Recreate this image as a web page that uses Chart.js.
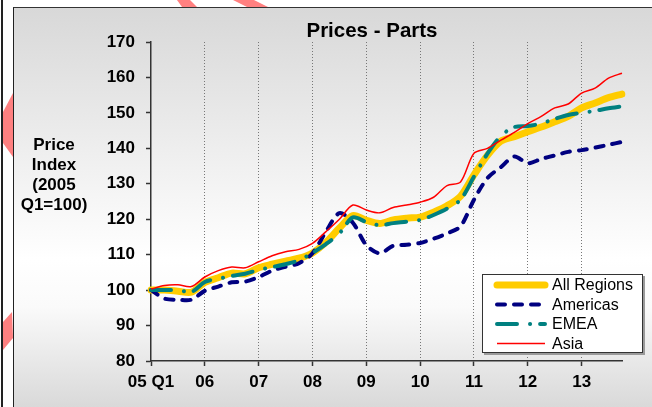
<!DOCTYPE html>
<html>
<head>
<meta charset="utf-8">
<title>Prices - Parts</title>
<script src="https://cdn.jsdelivr.net/npm/chart.js@4.4.1/dist/chart.umd.min.js"></script>
<style>
  html, body { margin: 0; padding: 0; background: #fff; }
  #wrap { position: relative; width: 652px; height: 407px; overflow: hidden; background: #fff;
    font-family: "Liberation Sans", Arial, sans-serif; }
  #outerLine { position: absolute; left: 1px; top: 0; width: 1.5px; height: 407px; background: #222; }
  #panel { position: absolute; left: 13px; top: 7px; right: 0; bottom: 0;
    border-left: 1.5px solid #222; border-top: 1.5px solid #333;
    background: linear-gradient(to bottom, #d8d8d8 0%, #ffffff 63%, #fafafa 75%, #d9d9d9 100%); }
  .pink { position: absolute; background: #ff8080; }
  #title { position: absolute; left: 272px; width: 200px; top: 18px; text-align: center;
    font-weight: bold; font-size: 20.5px; color: #000; }
  #yTitle { position: absolute; left: 14px; width: 80px; top: 135px; text-align: center;
    font-weight: bold; font-size: 17px; line-height: 20px; color: #000; }
  canvas { position: absolute; left: 0; top: 0; }
</style>
</head>
<body>
<div id="wrap">
  <div id="outerLine"></div>
  <div id="panel"></div>
  <div class="pink" style="left:0;top:0;width:652px;height:8px;clip-path:polygon(177px 0,190px 0,197px 7px,182px 7px);"></div>
  <div class="pink" style="left:0;top:0;width:652px;height:8px;clip-path:polygon(233px 0,254px 0,268px 7px,247px 7px);"></div>
  <div class="pink" style="left:0;top:0;width:14px;height:407px;clip-path:polygon(3px 112px,13px 93px,13px 157px,3px 143px);"></div>
  <div class="pink" style="left:0;top:0;width:14px;height:407px;clip-path:polygon(3px 322px,12px 312px,13px 338px,3px 350px);"></div>
  <canvas id="pricesChart" width="652" height="407"></canvas>
  <div id="title">Prices - Parts</div>
  <div id="yTitle">Price<br>Index<br>(2005<br>Q1=100)</div>
</div>
<script>
/* Prices - Parts: quarterly price index, 2005 Q1 = 100 */

const years = ["05", "06", "07", "08", "09", "10", "11", "12", "13"];
const quarters = ["Q1", "Q2", "Q3", "Q4"];
const yearTicks = ["05 Q1", "06", "07", "08", "09", "10", "11", "12", "13"];
const labels = years.flatMap((y) => quarters.map((q) => `${y} ${q}`));

const allRegions = [
  100, 100, 99.7, 99.4, 102.2, 103.5, 104.8, 104.6, 106.3, 107.3, 108.2, 109,
  110.5, 113.5, 117.5, 121, 119.7, 118.8, 119.8, 120.3, 120.6, 122, 123.8, 126.5,
  132.5, 138, 142, 143.3, 144.7, 146, 147.5, 149, 151.4, 152.8, 154.3, 155.3,
];
const americas = [
  100, 97.6, 97.3, 97.3, 99.8, 101, 102.2, 102.4, 103.7, 105.5, 106.6, 107.6,
  110.4, 116.5, 121.7, 119, 112.7, 110.4, 112.5, 112.8, 113.3, 114.5, 116, 118,
  125.5, 131.6, 134.7, 137.7, 135.8, 137, 138, 139, 139.5, 140.2, 141, 141.8,
];
const emea = [
  100, 100, 100, 99.5, 102.3, 103.2, 104, 104.6, 105.7, 106.5, 107.3, 108.4,
  110.5, 113, 116, 120.5, 119.2, 118.3, 118.9, 119.3, 119.8, 121.2, 123, 125.5,
  132, 138.5, 143.5, 146, 146.3, 147, 148.3, 149.4, 150, 150.6, 151.3, 151.8,
];
const asia = [
  100.3, 101.3, 101.5, 101, 103.7, 105.5, 106.5, 106.3, 108, 109.7, 110.8, 111.5,
  113.2, 116.5, 120, 124, 122.6, 121.8, 123.3, 124, 124.8, 126.2, 129.5, 130.5,
  138.6, 140, 142.3, 144.5, 147, 149, 151.4, 152.5, 155.6, 157, 159.8, 161.2,
];

const seriesNames = ["All Regions", "Americas", "EMEA", "Asia"];

// legend box drawn inside the plot, lower right
const insideLegend = {
  id: "insideLegend",
  afterDatasetsDraw(chart) {
    const ctx = chart.ctx;
    const box = { x: 482, y: 274, w: 160, h: 78 };
    ctx.save();
    ctx.fillStyle = "#9a9a9a";
    ctx.fillRect(box.x + 2, box.y + 2, box.w + 1, box.h + 1);
    ctx.fillStyle = "#ffffff";
    ctx.fillRect(box.x, box.y, box.w, box.h);
    ctx.strokeStyle = "#333";
    ctx.lineWidth = 1;
    ctx.strokeRect(box.x + 0.5, box.y + 0.5, box.w, box.h);

    chart.data.datasets.forEach((ds, i) => {
      const y = 285 + i * 19.5;
      ctx.save();
      ctx.strokeStyle = ds.borderColor;
      ctx.lineWidth = ds.borderWidth;
      ctx.lineCap = ds.borderCapStyle || "butt";
      ctx.setLineDash(ds.borderDash || []);
      ctx.beginPath();
      ctx.moveTo(497, y);
      ctx.lineTo(545, y);
      ctx.stroke();
      ctx.restore();

      ctx.fillStyle = "#000";
      ctx.font = '16px "Liberation Sans", Arial, sans-serif';
      ctx.textBaseline = "middle";
      ctx.fillText(ds.label, 552, y + 1);
    });
    ctx.restore();
  },
};

const ctx = document.getElementById("pricesChart").getContext("2d");

new Chart(ctx, {
  type: "line",
  data: {
    labels: labels,
    datasets: [
      {
        label: seriesNames[0],
        data: allRegions,
        borderColor: "#FFCC00",
        borderWidth: 7,
        borderCapStyle: "round",
        order: 4,
      },
      {
        label: seriesNames[1],
        data: americas,
        borderColor: "#000080",
        borderWidth: 4,
        borderDash: [8, 9],
        borderCapStyle: "round",
        order: 3,
      },
      {
        label: seriesNames[2],
        data: emea,
        borderColor: "#008080",
        borderWidth: 4,
        borderDash: [20, 13, 0.1, 10],
        borderCapStyle: "round",
        order: 2,
      },
      {
        label: seriesNames[3],
        data: asia,
        borderColor: "#FF0000",
        borderWidth: 1.5,
        order: 1,
      },
    ],
  },
  options: {
    responsive: false,
    animation: false,
    layout: { padding: { left: 0, right: 30, top: 42, bottom: 0 } },
    elements: {
      point: { radius: 0, hitRadius: 0 },
      line: { tension: 0.3, fill: false },
    },
    plugins: {
      legend: { display: false },
      title: { display: false },
      tooltip: { enabled: false },
    },
    scales: {
      x: {
        type: "category",
        offset: false,
        afterFit(scale) {
          scale.height = 46;
        },
        grid: {
          color: (c) => (c.index > 0 && c.index % 4 === 0 ? "#777" : "rgba(0,0,0,0)"),
          lineWidth: 1,
          drawTicks: true,
          tickLength: 5,
          tickColor: (c) => (c.index % 4 === 0 ? "#333" : "rgba(0,0,0,0)"),
          tickWidth: 1.5,
        },
        border: { display: true, color: "#333", width: 1.5, dash: [1, 2] },
        ticks: {
          autoSkip: false,
          maxRotation: 0,
          minRotation: 0,
          padding: 6,
          color: "#000",
          font: { family: '"Liberation Sans", Arial, sans-serif', size: 17, weight: "bold" },
          callback: (val, i) => (i % 4 === 0 ? yearTicks[i / 4] : ""),
        },
      },
      y: {
        min: 80,
        max: 170,
        afterFit(scale) {
          scale.width = 151;
        },
        grid: {
          drawOnChartArea: false,
          drawTicks: true,
          tickLength: 5,
          tickColor: "#333",
          tickWidth: 1.5,
        },
        border: { display: true, color: "#333", width: 1.5 },
        ticks: {
          stepSize: 10,
          padding: 11,
          color: "#000",
          font: { family: '"Liberation Sans", Arial, sans-serif', size: 17, weight: "bold" },
        },
      },
    },
  },
  plugins: [insideLegend],
});
</script>
</body>
</html>
